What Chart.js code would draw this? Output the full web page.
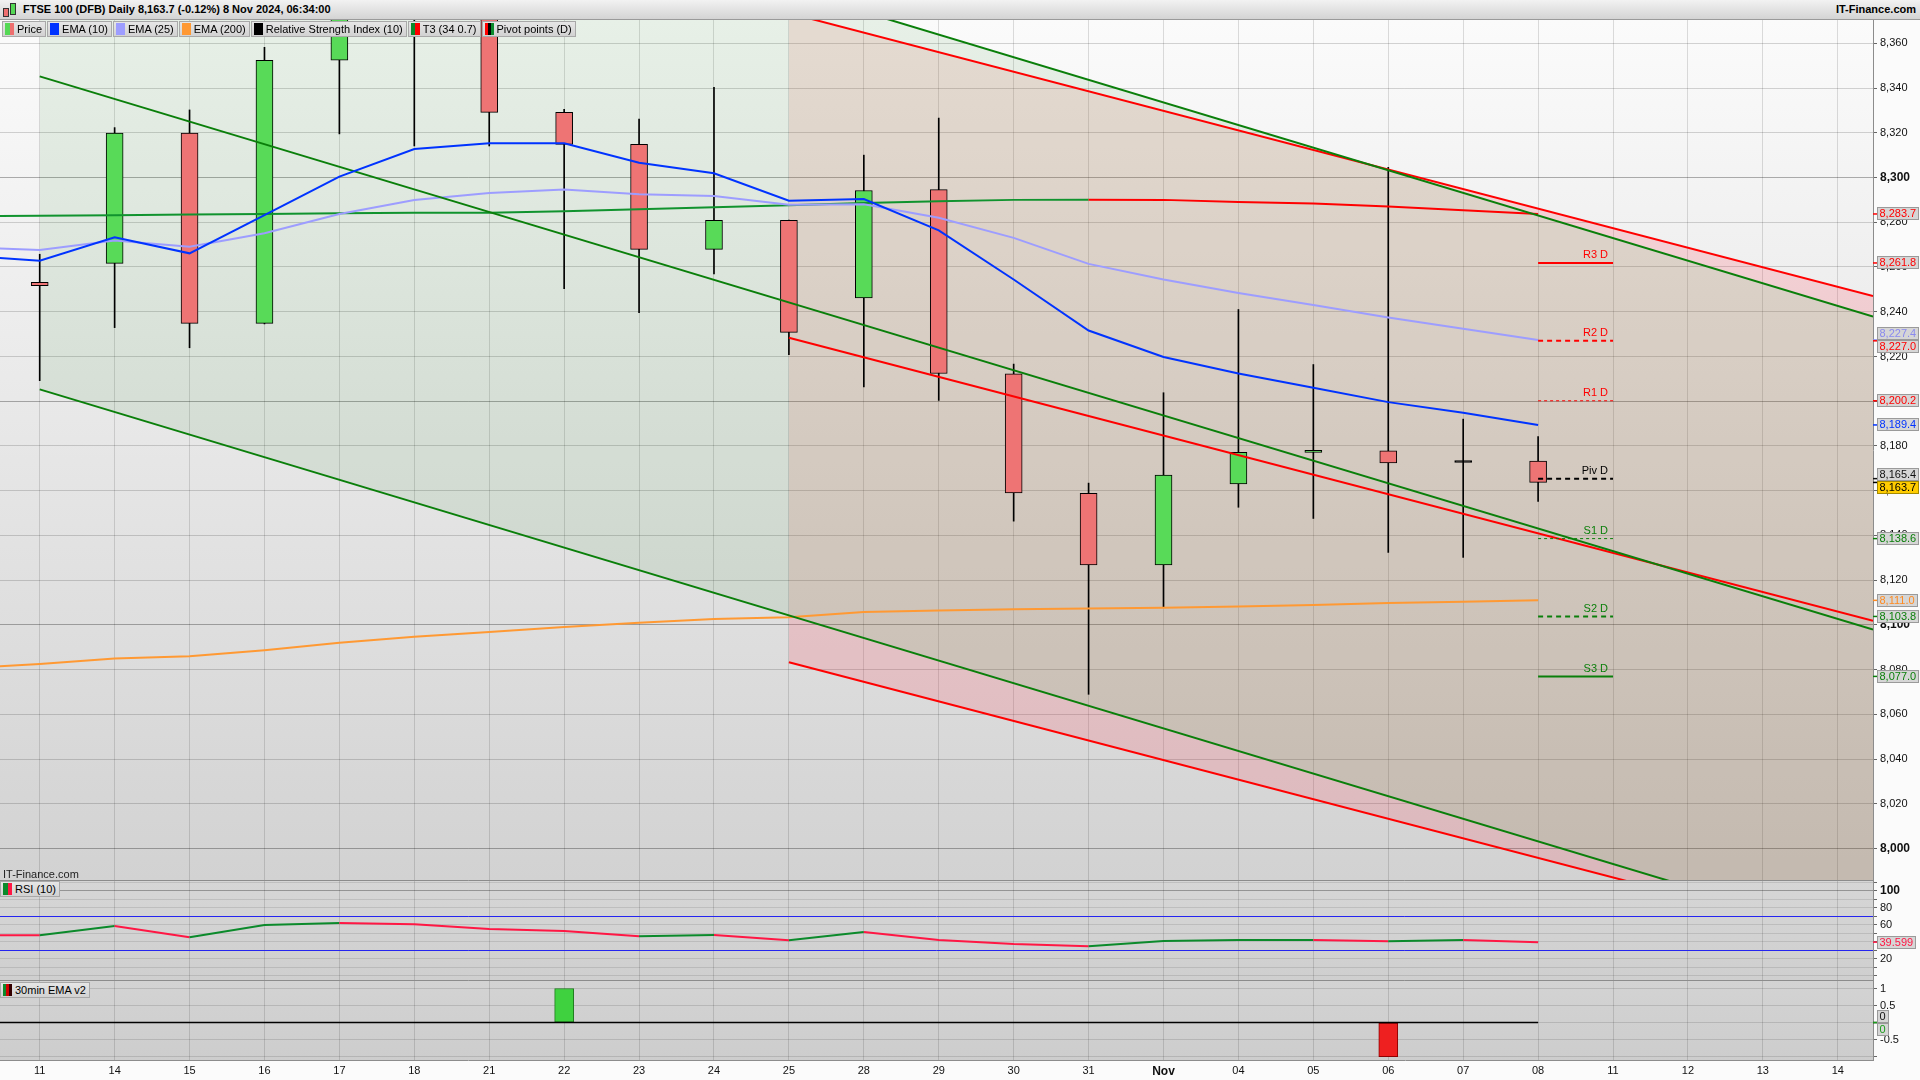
<!DOCTYPE html>
<html>
<head>
<meta charset="utf-8">
<script src="https://cdn.jsdelivr.net/npm/chart.js@4.4.1/dist/chart.umd.min.js"></script>
<style>
html, body { margin: 0; padding: 0; width: 1920px; height: 1080px; overflow: hidden; background: #fbfbfb;
  font-family: "Liberation Sans", Arial, sans-serif; }
#header { position: absolute; left: 0; top: 0; width: 1920px; height: 20px; box-sizing: border-box;
  background: linear-gradient(#f2f2f2, #d4d4d4); border-bottom: 1px solid #9a9a9a; }
#title { position: absolute; left: 23px; top: 0; line-height: 19px; font-weight: bold; font-size: 11px; color: #000; }
#brand { position: absolute; right: 4px; top: 0; line-height: 19px; font-weight: bold; font-size: 11px; color: #000; }
.ico { position: absolute; border: 1px solid #333; }
canvas { position: absolute; left: 0; }
.row { position: absolute; display: flex; gap: 1px; }
.lg { height: 16px; box-sizing: border-box; border: 1px solid #a8a8a8; background: linear-gradient(#e6e6e6, #d2d2d2);
  font-size: 11px; line-height: 14px; padding: 0 3px 0 2px; display: flex; align-items: center; white-space: nowrap; color: #000; }
.sw { display: flex; width: 9px; height: 12px; margin-right: 3px; }
.sw b { flex: 1; }
#wm { position: absolute; left: 3px; top: 868px; font-size: 11px; color: #222; }
</style>
</head>
<body>
<div id="header">
  <div class="ico" style="left:3px;top:8px;width:4px;height:7px;background:#ee6f6f"></div>
  <div class="ico" style="left:10px;top:3px;width:4px;height:10px;background:#55d855"></div>
  <span id="title">FTSE 100 (DFB) Daily 8,163.7 (-0.12%) 8 Nov 2024, 06:34:00</span>
  <span id="brand">IT-Finance.com</span>
</div>

<canvas id="price" width="1920" height="860" style="top:20px"></canvas>
<canvas id="rsi" width="1920" height="100" style="top:880px"></canvas>
<canvas id="ema" width="1920" height="100" style="top:980px"></canvas>

<div class="row" style="top:21px;left:2px">
  <div class="lg"><i class="sw"><b style="background:#55d855"></b><b style="background:#ee6f6f"></b></i>Price</div>
  <div class="lg"><i class="sw"><b style="background:#0033ff"></b></i>EMA (10)</div>
  <div class="lg"><i class="sw"><b style="background:#9d9dff"></b></i>EMA (25)</div>
  <div class="lg"><i class="sw"><b style="background:#ff9933"></b></i>EMA (200)</div>
  <div class="lg"><i class="sw"><b style="background:#000"></b></i>Relative Strength Index (10)</div>
  <div class="lg"><i class="sw"><b style="background:#0b8a2b"></b><b style="background:#ff0000"></b></i>T3 (34 0.7)</div>
  <div class="lg"><i class="sw"><b style="background:#ff0000"></b><b style="background:#000"></b><b style="background:#0b8a2b"></b></i>Pivot points (D)</div>
</div>
<div id="wm">IT-Finance.com</div>
<div class="row" style="top:881px;left:0">
  <div class="lg"><i class="sw"><b style="background:#0b8a2b"></b><b style="background:#ff1744"></b></i>RSI (10)</div>
</div>
<div class="row" style="top:982px;left:0">
  <div class="lg"><i class="sw"><b style="background:#0b8a2b"></b><b style="background:#d00000"></b><b style="background:#300"></b></i>30min EMA v2</div>
</div>

<script>
// sessions on the x axis (last four are future slots)
const dayLabels = ['11','14','15','16','17','18','21','22','23','24','25','28','29','30','31','Nov','04','05','06','07','08','11','12','13','14'];

// daily candles, 11 Oct .. 8 Nov
const openPx  = [8253.2, 8261.6, 8319.8, 8234.8, 8352.4, 8385.0, 8374.0, 8329.1, 8314.8, 8267.9, 8280.9,
                 8246.2, 8294.6, 8212.2, 8158.8, 8126.8, 8163.0, 8177.1, 8177.8, 8172.6, 8173.2];
const highPx  = [8265.7, 8322.3, 8330.2, 8358.2, 8390.0, 8395.0, 8380.0, 8330.5, 8326.1, 8340.3, 8281.0,
                 8310.0, 8326.6, 8216.6, 8163.4, 8203.8, 8241.0, 8216.4, 8304.6, 8192.0, 8184.2];
const lowPx   = [8209.2, 8232.9, 8223.9, 8234.5, 8319.5, 8314.1, 8314.1, 8250.3, 8239.6, 8256.9, 8220.8,
                 8206.4, 8200.4, 8146.4, 8069.0, 8107.8, 8152.6, 8147.6, 8132.4, 8130.2, 8155.2];
const closePx = [8251.6, 8319.8, 8234.8, 8352.4, 8378.0, 8375.0, 8329.1, 8314.8, 8267.9, 8280.9, 8230.8,
                 8294.2, 8212.4, 8159.0, 8126.8, 8167.0, 8177.2, 8178.0, 8172.4, 8172.6, 8163.7];

// indicators, starting one session earlier (10 Oct)
const ema10  = [8265.0, 8262.8, 8273.3, 8266.1, 8283.2, 8300.4, 8312.7, 8315.3, 8315.3, 8306.6, 8301.9,
                8289.6, 8290.4, 8276.4, 8254.4, 8231.6, 8219.8, 8212.4, 8206.0, 8199.6, 8194.8, 8189.4];
const ema25  = [8268.9, 8267.6, 8271.8, 8269.1, 8275.1, 8283.7, 8289.9, 8293.1, 8294.6, 8292.5, 8291.7,
                8287.8, 8288.0, 8282.0, 8273.0, 8261.4, 8254.4, 8248.4, 8243.0, 8237.4, 8232.4, 8227.4];
const ema200 = [8080.6, 8082.5, 8085.0, 8086.0, 8088.7, 8092.0, 8094.7, 8096.9, 8099.1, 8101.0, 8102.7,
                8103.4, 8105.8, 8106.5, 8107.0, 8107.3, 8107.7, 8108.3, 8108.9, 8109.8, 8110.4, 8111.0];
const t3     = [8282.8, 8282.9, 8283.1, 8283.5, 8283.7, 8284.0, 8284.2, 8284.3, 8284.9, 8285.8, 8286.7,
                8287.6, 8288.6, 8289.4, 8290.0, 8290.1, 8290.0, 8289.0, 8288.4, 8287.0, 8285.4, 8283.7];
const rsi10  = [47.8, 47.6, 58.6, 45.3, 59.8, 62.1, 60.6, 55.1, 52.7, 46.5, 48.0,
                41.8, 51.5, 42.1, 37.4, 34.7, 40.9, 42.1, 42.2, 40.6, 42.1, 39.599];
const rsiLevels = [70, 30];
const ema30Signal = [0, 0, 0, 0, 0, 0, 0, 1, 0, 0, 0, 0, 0, 0, 0, 0, 0, 0, -1, 0, 0];

// daily pivots for 8 Nov
const pivotNames  = ['R3 D', 'R2 D', 'R1 D', 'Piv D', 'S1 D', 'S2 D', 'S3 D'];
const pivotValues = [8261.8, 8227.0, 8200.2, 8165.4, 8138.6, 8103.8, 8077.0];

// regression channels: x span, and [upper, middle, lower] at start and end of span
const X_MIN = -0.53, X_MAX = 24.47;
const chan1X = [0, X_MAX];
const chan1Start = [8485.1, 8345.2, 8205.3];
const chan1End   = [8237.9, 8098.0, 7958.1];
const chan2X = [10, X_MAX];
const chan2Start = [8373.5, 8228.4, 8083.3];
const chan2End   = [8247.0, 8101.9, 7956.8];

const FONT = '"Liberation Sans", Arial, sans-serif';
Chart.defaults.font.family = FONT;
Chart.defaults.font.size = 11;
Chart.defaults.color = '#111';
Chart.defaults.animation = false;

const GREEN = '#0a7f0a', RED = '#ff0000';
const UP = '#0b8a2b', DOWN = '#ff1744';
const GREEN_TINT = 'rgba(0,110,0,0.08)';
const PINK = 'rgba(255,80,100,0.2)';
const TAN = 'rgba(140,90,40,0.2)';

const xy = (arr, x0) => arr.map((v, i) => ({x: i + x0, y: v}));
const lineAt = (xs, a, b, x) => a + (b - a) * (x - xs[0]) / (xs[1] - xs[0]);
const c1 = k => x => lineAt(chan1X, chan1Start[k], chan1End[k], x);
const c2 = k => x => lineAt(chan2X, chan2Start[k], chan2End[k], x);
const pts = (f, xs) => xs.map(x => ({x, y: f(x)}));
const fmt1 = v => v.toLocaleString('en-US', {minimumFractionDigits: 1, maximumFractionDigits: 1});

// where the two upper channel lines cross
const gap = x => c1(0)(x) - c2(0)(x);
const xCross = chan2X[0] + gap(chan2X[0]) * (chan2X[1] - chan2X[0]) / (gap(chan2X[0]) - gap(chan2X[1]));
const rightXs = [chan2X[0], xCross, chan2X[1]];
const leftXs = [chan1X[0], chan2X[0]];
const lastIdx = openPx.length - 1;

// ---------- plugins ----------
const panelBg = {
  id: 'panelBg',
  beforeDraw(chart, args, o) {
    const {ctx, chartArea: a} = chart;
    ctx.save();
    const g = ctx.createLinearGradient(0, a.top, 0, a.bottom);
    g.addColorStop(0, o.top); g.addColorStop(1, o.bottom);
    ctx.fillStyle = g;
    ctx.fillRect(a.left, a.top, a.right - a.left, a.bottom - a.top);
    ctx.restore();
  },
  afterDraw(chart, args, o) {
    if (!o.sepTop) return;
    const {ctx, chartArea: a} = chart;
    ctx.save();
    ctx.strokeStyle = '#8c8c8c'; ctx.lineWidth = 1;
    ctx.beginPath(); ctx.moveTo(a.left, a.top + 0.5); ctx.lineTo(a.right, a.top + 0.5); ctx.stroke();
    ctx.restore();
  }
};

const axisTags = {
  id: 'axisTags',
  afterDraw(chart, args, o) {
    const {ctx, chartArea: a, scales: {y}} = chart;
    const H = 13;
    const items = o.tags.map(t => ({...t, ty: y.getPixelForValue(t.value)}));
    items.forEach(t => t.py = t.ty);
    items.sort((p, q) => p.py - q.py);
    for (let k = 0; k < 30; k++) {
      let moved = false;
      for (let i = 1; i < items.length; i++) {
        const d = items[i].py - items[i - 1].py;
        if (d < H) { const s = (H - d) / 2; items[i].py += s; items[i - 1].py -= s; moved = true; }
      }
      if (!moved) break;
    }
    ctx.save();
    ctx.font = '11px ' + FONT;
    ctx.textBaseline = 'middle';
    items.forEach(t => {
      const text = t.text || fmt1(t.value);
      const w = Math.ceil(ctx.measureText(text).width) + 5;
      const x0 = a.right + 4, y0 = Math.round(t.py - H / 2);
      ctx.strokeStyle = t.color; ctx.lineWidth = 1.5;
      ctx.beginPath(); ctx.moveTo(a.right, t.ty); ctx.lineTo(x0, t.ty); ctx.stroke();
      ctx.fillStyle = t.bg || '#d6d6d6';
      ctx.fillRect(x0, y0, w, H);
      ctx.strokeStyle = t.bg ? '#a58a00' : '#9a9a9a'; ctx.lineWidth = 1;
      ctx.strokeRect(x0 + 0.5, y0 + 0.5, w - 1, H - 1);
      ctx.fillStyle = t.color;
      ctx.fillText(text, x0 + 2.5, y0 + H / 2 + 0.5);
    });
    ctx.restore();
  }
};

const pivotText = {
  id: 'pivotText',
  afterDatasetsDraw(chart) {
    const {ctx, scales: {x, y}} = chart;
    ctx.save();
    ctx.font = '11px ' + FONT;
    ctx.textAlign = 'right'; ctx.textBaseline = 'bottom';
    pivotNames.forEach((n, k) => {
      ctx.fillStyle = pivotColors[k] === '#000' ? '#000' : pivotColors[k];
      ctx.fillText(n, x.getPixelForValue(lastIdx + 1) - 5, y.getPixelForValue(pivotValues[k]) - 2);
    });
    ctx.restore();
  }
};

const levelLines = {
  id: 'levelLines',
  beforeDatasetsDraw(chart) {
    const {ctx, chartArea: a, scales: {y}} = chart;
    ctx.save();
    ctx.strokeStyle = '#2424f0'; ctx.lineWidth = 1;
    rsiLevels.forEach(v => {
      const py = Math.round(y.getPixelForValue(v)) + 0.5;
      ctx.beginPath(); ctx.moveTo(a.left, py); ctx.lineTo(a.right, py); ctx.stroke();
    });
    ctx.restore();
  }
};

// ---------- shared axis builders ----------
function xAxis(showLabels) {
  return {
    type: 'linear', min: X_MIN, max: X_MAX, offset: false,
    afterBuildTicks: s => { s.ticks = dayLabels.map((_, i) => ({value: i})); },
    ticks: {
      display: showLabels, autoSkip: false, maxRotation: 0, padding: 4, color: '#111',
      callback: v => dayLabels[v],
      font: c => (c.tick && dayLabels[c.tick.value] === 'Nov') ? {size: 12, weight: 'bold'} : {size: 11}
    },
    grid: {color: 'rgba(0,0,0,0.13)', drawTicks: false, offset: false},
    border: {display: showLabels, color: '#8c8c8c'},
    afterFit: s => { s.height = showLabels ? 20 : 0; s.paddingLeft = 0; s.paddingRight = 0; }
  };
}
function yAxis(extra) {
  return Object.assign({
    position: 'right',
    afterFit: s => { s.width = 47; s.paddingTop = 0; s.paddingBottom = 0; },
    border: {color: '#8c8c8c'}
  }, extra);
}
const baseOpts = {responsive: false, events: [], layout: {padding: 0},
  plugins: {legend: {display: false}, tooltip: {enabled: false}}};

// ---------- price panel ----------
const priceSets = [];
const push = d => priceSets.push(Object.assign({type: 'line', pointRadius: 0, borderWidth: 0, tension: 0, fill: false, order: 50}, d)) - 1;

// channel fills
const iG1botL = push({data: pts(c1(2), leftXs)});
push({data: pts(c1(0), leftXs), fill: {target: iG1botL, above: GREEN_TINT, below: GREEN_TINT}});
const iG1topR = push({data: pts(c1(0), rightXs)});
push({data: pts(c2(0), rightXs), fill: {target: iG1topR, above: PINK, below: GREEN_TINT}});
const iG1botR = push({data: pts(c1(2), rightXs)});
push({data: pts(x => Math.min(c1(0)(x), c2(0)(x)), rightXs), fill: {target: iG1botR, above: TAN, below: TAN}});
const iR2botR = push({data: pts(c2(2), rightXs)});
priceSets[iG1botR].fill = {target: iR2botR, above: PINK, below: PINK};

// channel lines
[0, 1, 2].forEach(k => push({data: pts(c1(k), chan1X), borderColor: GREEN, borderWidth: 2, order: 3}));
[0, 1, 2].forEach(k => push({data: pts(c2(k), chan2X), borderColor: RED, borderWidth: 2, order: 3}));

// candles
const bodyColor = openPx.map((o, i) => closePx[i] > o ? '#58da58' : closePx[i] < o ? '#ee7474' : '#000');
push({type: 'bar', data: lowPx.map((l, i) => ({x: i, y: [l, highPx[i]]})), backgroundColor: '#000',
  barThickness: 1, grouped: false, order: 20});
push({type: 'bar', data: openPx.map((o, i) => ({x: i, y: [o, closePx[i]]})), backgroundColor: bodyColor,
  borderColor: '#000', borderWidth: 1, borderSkipped: false, barThickness: 17, minBarLength: 2, grouped: false, order: 19});

// moving averages and T3
push({data: xy(ema200, -1), borderColor: '#ff9933', borderWidth: 2, order: 5});
push({data: xy(ema25, -1), borderColor: '#9d9dff', borderWidth: 2, order: 4});
push({data: xy(t3, -1), borderColor: UP, borderWidth: 2, order: 4,
  segment: {borderColor: c => c.p1.parsed.y < c.p0.parsed.y ? RED : '#10932e'}});
push({data: xy(ema10, -1), borderColor: '#0033ff', borderWidth: 2, order: 2});

// pivot segments
const pivotColors = [RED, RED, RED, '#000', GREEN, GREEN, GREEN];
const pivotWidths = [2, 2, 1, 2, 1, 2, 2];
const pivotDash = [[], [5, 4], [3, 3], [5, 4], [3, 3], [5, 4], []];
pivotValues.forEach((v, k) => push({data: [{x: lastIdx, y: v}, {x: lastIdx + 1, y: v}],
  borderColor: pivotColors[k], borderWidth: pivotWidths[k], borderDash: pivotDash[k], order: 1}));

const priceTags = [
  {value: t3[t3.length - 1], color: RED},
  {value: pivotValues[0], color: RED},
  {value: ema25[ema25.length - 1], color: '#8a8aee'},
  {value: pivotValues[1], color: RED},
  {value: pivotValues[2], color: RED},
  {value: ema10[ema10.length - 1], color: '#0033ff'},
  {value: pivotValues[3], color: '#111'},
  {value: closePx[lastIdx], color: '#000', bg: '#ffcc00'},
  {value: pivotValues[4], color: GREEN},
  {value: ema200[ema200.length - 1], color: '#ff8a1f'},
  {value: pivotValues[5], color: GREEN},
  {value: pivotValues[6], color: GREEN}
];

new Chart(document.getElementById('price'), {
  type: 'line',
  data: {datasets: priceSets},
  options: Object.assign({}, baseOpts, {
    plugins: Object.assign({}, baseOpts.plugins, {
      panelBg: {top: '#fbfbfb', bottom: '#d2d2d2'},
      axisTags: {tags: priceTags}
    }),
    scales: {
      x: xAxis(false),
      y: yAxis({
        min: 7986, max: 8370.4,
        ticks: {stepSize: 20, includeBounds: false, padding: 3, color: '#111',
          callback: v => v.toLocaleString('en-US'),
          font: c => (c.tick && c.tick.value % 100 === 0) ? {size: 12, weight: 'bold'} : {size: 11}},
        grid: {tickLength: 4, tickColor: '#666',
          color: c => (c.tick && c.tick.value % 100 === 0) ? 'rgba(0,0,0,0.3)' : 'rgba(0,0,0,0.16)'}
      })
    }
  }),
  plugins: [panelBg, pivotText, axisTags]
});

// ---------- RSI panel ----------
new Chart(document.getElementById('rsi'), {
  type: 'line',
  data: {datasets: [{data: xy(rsi10, -1), borderWidth: 2, pointRadius: 0, tension: 0, borderColor: DOWN,
    segment: {borderColor: c => c.p1.parsed.y < c.p0.parsed.y ? DOWN : UP}}]},
  options: Object.assign({}, baseOpts, {
    plugins: Object.assign({}, baseOpts.plugins, {
      panelBg: {top: '#d6d6d6', bottom: '#cfcfcf', sepTop: true},
      axisTags: {tags: [{value: rsi10[rsi10.length - 1], text: String(rsi10[rsi10.length - 1]), color: DOWN}]}
    }),
    scales: {
      x: xAxis(false),
      y: yAxis({
        min: -4.9, max: 112.7,
        ticks: {stepSize: 10, includeBounds: false, padding: 3, color: '#111', autoSkip: false,
          callback: v => (v > 0 && v % 20 === 0) ? String(v) : '',
          font: c => (c.tick && c.tick.value === 100) ? {size: 12, weight: 'bold'} : {size: 11}},
        grid: {tickLength: 4, tickColor: '#666',
          color: c => (c.tick && c.tick.value === 100) ? 'rgba(0,0,0,0.3)' : 'rgba(0,0,0,0.1)'}
      })
    }
  }),
  plugins: [panelBg, levelLines, axisTags]
});

// ---------- 30min EMA v2 panel ----------
const signalBars = ema30Signal.map((v, i) => ({x: i, y: v})).filter(p => p.y !== 0);
new Chart(document.getElementById('ema'), {
  type: 'line',
  data: {datasets: [
    {type: 'line', data: [{x: -1, y: 0}].concat(ema30Signal.map((v, i) => ({x: i, y: 0}))),
      borderColor: '#000', borderWidth: 1.5, pointRadius: 0, order: 1},
    {type: 'bar', data: signalBars, barThickness: 19, grouped: false, borderSkipped: false, borderWidth: 1, order: 2,
      backgroundColor: c => c.raw && c.raw.y > 0 ? '#3fd13f' : '#ee2020',
      borderColor: c => c.raw && c.raw.y > 0 ? '#1c7d1c' : '#8e0000'}
  ]},
  options: Object.assign({}, baseOpts, {
    plugins: Object.assign({}, baseOpts.plugins, {
      panelBg: {top: '#d3d3d3', bottom: '#cdcdcd', sepTop: true},
      axisTags: {tags: [{value: 0, text: '0', color: '#111'}, {value: 0, text: '0', color: '#1a9c1a'}]}
    }),
    scales: {
      x: xAxis(true),
      y: yAxis({
        min: -1.1, max: 1.25,
        ticks: {stepSize: 0.5, includeBounds: false, padding: 3, color: '#111',
          callback: v => (v === 0 || v === -1) ? '' : String(v)},
        grid: {tickLength: 4, tickColor: '#666', color: 'rgba(0,0,0,0.12)'}
      })
    }
  }),
  plugins: [panelBg, axisTags]
});
</script>
</body>
</html>
